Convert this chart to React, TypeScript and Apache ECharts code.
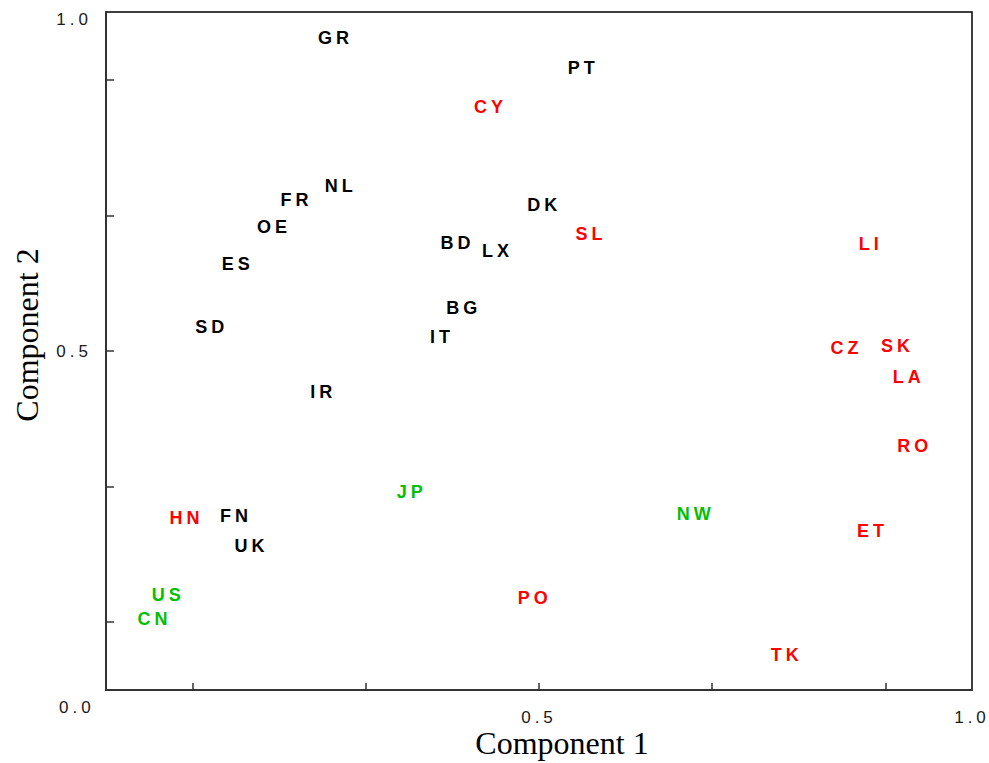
import React, { useEffect, useRef } from "react";
import * as echarts from "echarts";

// ---- data ----
const countries = ["GR","PT","CY","NL","FR","OE","DK","SL","LI","BD","LX","ES","BG","SD","IT","CZ","SK","LA","IR","RO","JP","NW","HN","FN","ET","UK","US","PO","CN","TK"];
const comp1 = [0.265,0.551,0.444,0.271,0.220,0.194,0.506,0.560,0.883,0.406,0.452,0.152,0.413,0.122,0.388,0.855,0.914,0.927,0.251,0.934,0.353,0.681,0.093,0.150,0.885,0.168,0.072,0.495,0.056,0.786];
const comp2 = [0.961,0.917,0.860,0.744,0.722,0.683,0.715,0.672,0.658,0.659,0.648,0.628,0.563,0.535,0.521,0.504,0.507,0.461,0.439,0.360,0.292,0.260,0.254,0.257,0.235,0.212,0.140,0.136,0.104,0.052];
const groups = ["k","k","r","k","k","k","k","r","r","k","k","k","k","k","k","r","r","r","k","r","g","g","r","k","r","k","g","r","g","r"];
const groupColors: Record<string, string> = { k: "#000000", r: "#ff0000", g: "#00c000" };

const xTickValues = [0.1, 0.3, 0.5, 0.7, 0.9];
const yTickValues = [0.1, 0.3, 0.5, 0.7, 0.9];
const xLabelValues = [0.5, 1.0];
const yLabelValues = [0.5, 1.0];
const cornerLabel = "0.0";
const xTitle = "Component 1";
const yTitle = "Component 2";

export default function App() {
  const ref = useRef<HTMLDivElement>(null);
  useEffect(() => {
    if (!ref.current) return;
    const chart = echarts.init(ref.current, undefined, { renderer: "svg" });
    const data = countries.map((c, i) => ({
      name: c,
      value: [comp1[i], comp2[i]],
      label: { color: groupColors[groups[i]] },
    }));
    const tickLabelStyle = {
      fontFamily: "Liberation Sans",
      fontSize: 17,
      color: "#1a1a1a",
    };
    chart.setOption({
      animation: false,
      grid: {
        left: 106,
        top: 12,
        width: 866,
        height: 678,
        outerBoundsMode: "none",
        containLabel: false,
        show: true,
        borderColor: "#000",
        borderWidth: 1.5,
        backgroundColor: "transparent",
      },
      xAxis: {
        type: "value",
        min: 0,
        max: 1,
        splitLine: { show: false },
        axisLine: { show: true, lineStyle: { color: "#333", width: 2 } },
        axisTick: { show: true, inside: true, length: 7, customValues: xTickValues, lineStyle: { color: "#333", width: 1.5 } },
        axisLabel: { ...tickLabelStyle, margin: 19, customValues: xLabelValues, formatter: (v: number) => v.toFixed(1) },
      },
      yAxis: {
        type: "value",
        min: 0,
        max: 1,
        name: yTitle,
        nameLocation: "middle",
        nameGap: 63,
        nameTextStyle: { fontFamily: "Liberation Serif", fontSize: 32, color: "#000", padding: [0, 0, 0, 32] },
        splitLine: { show: false },
        axisLine: { show: true, lineStyle: { color: "#333", width: 2 } },
        axisTick: { show: true, inside: true, length: 8, customValues: yTickValues, lineStyle: { color: "#333", width: 1.5 } },
        axisLabel: {
          ...tickLabelStyle,
          margin: 14,
          customValues: yLabelValues,
          formatter: (v: number) => (v >= 1 ? "{t|" + v.toFixed(1) + "}" : v.toFixed(1)),
          rich: { t: { ...tickLabelStyle, padding: [14, 0, 0, 0] } },
        },
      },
      graphic: [
        {
          type: "text",
          left: 59,
          top: 699,
          style: { text: cornerLabel, font: "17px 'Liberation Sans'", fill: "#1a1a1a" },
        },
        {
          type: "text",
          x: 562,
          y: 743,
          style: {
            text: xTitle,
            font: "32px 'Liberation Serif'",
            fill: "#000",
            textAlign: "center",
            textVerticalAlign: "middle",
          },
        },
      ],
      series: [
        {
          type: "scatter",
          data,
          symbolSize: 1,
          itemStyle: { color: "rgba(0,0,0,0)", opacity: 1 },
          label: {
            show: true,
            position: "inside",
            formatter: (p: any) => p.name,
            fontFamily: "Liberation Sans",
            fontWeight: "bold",
            fontSize: 18,
            textBorderWidth: 0,
            opacity: 1,
          },
        },
      ],
    });
    return () => chart.dispose();
  }, []);
  return (
    <>
      <style>{`
        #chartbox text { letter-spacing: 4px; }
        #chartbox text[style*="Serif"] { letter-spacing: normal; }
      `}</style>
      <div
        id="chartbox"
        ref={ref}
        style={{ position: "fixed", left: 0, top: 0, width: 989, height: 763, background: "#fff" }}
      />
    </>
  );
}
